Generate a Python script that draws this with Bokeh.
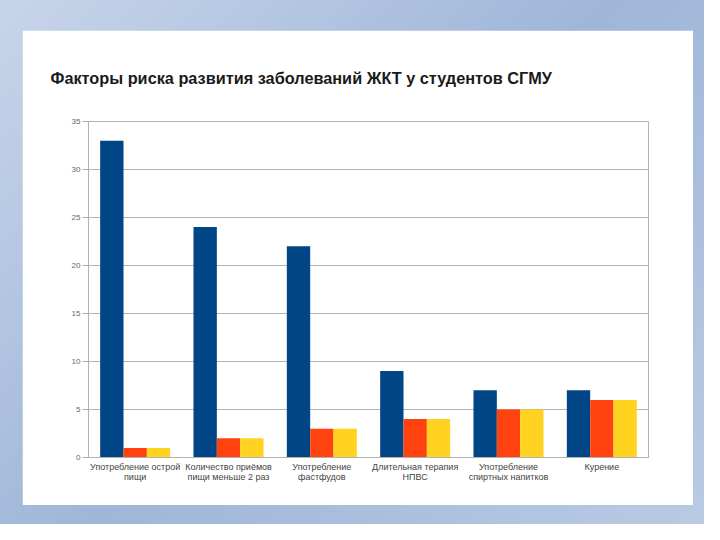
from bokeh.plotting import figure
from bokeh.models import ColumnDataSource, FactorRange, Range1d, FixedTicker, Title
from bokeh.transform import dodge
from bokeh.layouts import column
from bokeh.embed import file_html
from bokeh.resources import INLINE

title_text = "Факторы риска развития заболеваний ЖКТ у студентов СГМУ"
categories = [
    "Употребление острой\nпищи",
    "Количество приёмов\nпищи меньше 2 раз",
    "Употребление\nфастфудов",
    "Длительная терапия\nНПВС",
    "Употребление\nспиртных напитков",
    "Курение",
]
series1 = [33, 24, 22, 9, 7, 7]
series2 = [1, 2, 3, 4, 5, 6]
series3 = [1, 2, 3, 4, 5, 6]
y_ticks = [0, 5, 10, 15, 20, 25, 30, 35]

colors = ["#004586", "#ff420e", "#ffd320"]

src = ColumnDataSource(dict(cat=categories, s1=series1, s2=series2, s3=series3))

p = figure(
    x_range=FactorRange(*categories),
    y_range=Range1d(0, 35),
    width=671, height=475,
    output_backend="svg", toolbar_location=None,
    min_border_left=66, min_border_right=45,
    min_border_top=91, min_border_bottom=48,
    border_fill_color="white", background_fill_color="white",
)
p.title = Title(text=title_text, align="left", offset=-38,
                text_font="Liberation Sans", text_font_size="16.3px",
                text_font_style="bold", text_color="#1a1a1a", standoff=69)

for key, off, c in zip(["s1", "s2", "s3"], [-0.25, 0.0, 0.25], colors):
    p.vbar(x=dodge("cat", off, range=p.x_range), top=key, width=0.25,
           source=src, fill_color=c, line_color=None)

p.outline_line_color = "#b3b3b3"
p.xgrid.grid_line_color = None
p.ygrid.grid_line_color = "#b3b3b3"
p.ygrid.ticker = FixedTicker(ticks=y_ticks)

p.yaxis.ticker = FixedTicker(ticks=y_ticks, minor_ticks=[])
p.yaxis.axis_line_color = "#b3b3b3"
p.yaxis.major_tick_line_color = "#b3b3b3"
p.yaxis.major_tick_out = 6
p.yaxis.major_tick_in = 0
p.yaxis.minor_tick_line_color = None
p.yaxis.major_label_text_font = "Liberation Sans"
p.yaxis.major_label_text_font_size = "8px"
p.yaxis.major_label_text_color = "#666666"
p.yaxis.major_label_standoff = 2

p.xaxis.axis_line_color = "#b3b3b3"
p.xaxis.major_tick_line_color = None
p.xaxis.major_tick_out = 0
p.xaxis.major_tick_in = 0
p.xaxis.major_label_text_font = "Liberation Sans"
p.xaxis.major_label_text_font_size = "9px"
p.xaxis.major_label_text_color = "#444444"
p.xaxis.major_label_text_line_height = 1.05
p.xaxis.major_label_standoff = 4

layout = column(p, styles={
    "background": "linear-gradient(135deg, #c7d5ea 0%, #9fb6d8 50%, #b9cae3 100%)",
    "padding": "30px 11px 19px 22px",
})

open("out.html", "w").write(file_html(layout, INLINE))
